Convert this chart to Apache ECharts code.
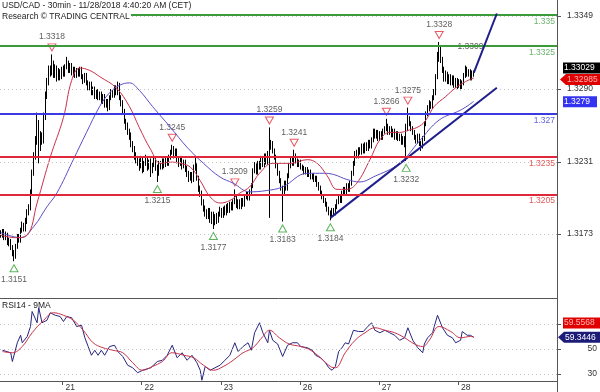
<!DOCTYPE html>
<html><head><meta charset="utf-8">
<script src="https://cdn.jsdelivr.net/npm/echarts@6/dist/echarts.min.js"></script>
<style>html,body{margin:0;padding:0;background:#fff}#c{width:600px;height:392px}</style>
</head><body><div id="c"></div>
<script>
// ---- 30-min USD/CAD candles (index 0 = 20 Nov ~05:00 CET) ----
const opens = [1.3174,1.3172,1.3175,1.3170,1.3173,1.3166,1.3168,1.3162,1.3158,1.3155,1.3163,1.3171,
1.3168,1.3176,1.3180,1.3177,1.3183,1.3191,1.3194,1.3206,1.3222,1.3236,1.3248,1.3262,
1.3244,1.3252,1.3248,1.3268,1.3285,1.3296,1.3306,1.3303,1.3310,1.3302,1.3307,1.3299,
1.3304,1.3300,1.3306,1.3302,1.3308,1.3311,1.3305,1.3309,1.3303,1.3306,1.3301,1.3305,
1.3302,1.3306,1.3300,1.3297,1.3301,1.3295,1.3291,1.3294,1.3287,1.3290,1.3284,1.3288,
1.3283,1.3286,1.3280,1.3284,1.3277,1.3280,1.3275,1.3283,1.3288,1.3285,1.3291,1.3287,
1.3293,1.3283,1.3278,1.3272,1.3264,1.3260,1.3256,1.3252,1.3245,1.3242,1.3236,1.3233,
1.3231,1.3228,1.3233,1.3226,1.3230,1.3234,1.3227,1.3231,1.3225,1.3229,1.3233,1.3227,
1.3224,1.3230,1.3228,1.3232,1.3229,1.3233,1.3230,1.3235,1.3239,1.3242,1.3237,1.3240,
1.3233,1.3230,1.3234,1.3228,1.3231,1.3226,1.3222,1.3218,1.3221,1.3217,1.3226,1.3228,
1.3218,1.3210,1.3206,1.3199,1.3194,1.3190,1.3188,1.3192,1.3185,1.3189,1.3183,1.3187,
1.3184,1.3189,1.3192,1.3188,1.3193,1.3190,1.3195,1.3192,1.3197,1.3194,1.3199,1.3202,
1.3196,1.3199,1.3195,1.3200,1.3197,1.3203,1.3205,1.3202,1.3207,1.3212,1.3224,1.3228,
1.3223,1.3230,1.3227,1.3234,1.3229,1.3236,1.3231,1.3238,1.3243,1.3246,1.3240,1.3235,
1.3228,1.3222,1.3216,1.3210,1.3207,1.3214,1.3210,1.3220,1.3228,1.3233,1.3230,1.3236,
1.3232,1.3229,1.3231,1.3227,1.3226,1.3223,1.3225,1.3221,1.3223,1.3219,1.3220,1.3217,
1.3218,1.3213,1.3210,1.3206,1.3203,1.3200,1.3197,1.3193,1.3190,1.3188,1.3192,1.3190,
1.3195,1.3199,1.3203,1.3200,1.3206,1.3209,1.3207,1.3212,1.3209,1.3214,1.3222,1.3230,
1.3238,1.3236,1.3241,1.3239,1.3244,1.3240,1.3245,1.3242,1.3247,1.3244,1.3249,1.3256,
1.3252,1.3255,1.3250,1.3254,1.3251,1.3256,1.3258,1.3260,1.3255,1.3258,1.3253,1.3256,
1.3251,1.3254,1.3250,1.3252,1.3247,1.3250,1.3246,1.3258,1.3266,1.3262,1.3258,1.3255,
1.3251,1.3248,1.3252,1.3246,1.3244,1.3250,1.3262,1.3270,1.3274,1.3278,1.3276,1.3283,
1.3287,1.3300,1.3316,1.3322,1.3314,1.3306,1.3299,1.3302,1.3297,1.3300,1.3296,1.3299,
1.3294,1.3297,1.3293,1.3296,1.3292,1.3295,1.3301,1.3306,1.3302,1.3304,1.3299,1.3303];
const closes = [1.3172,1.3175,1.3170,1.3173,1.3166,1.3168,1.3162,1.3158,1.3155,1.3163,1.3171,1.3168,
1.3176,1.3180,1.3177,1.3183,1.3191,1.3194,1.3206,1.3222,1.3236,1.3248,1.3262,1.3244,
1.3252,1.3248,1.3268,1.3285,1.3296,1.3306,1.3303,1.3310,1.3302,1.3307,1.3299,1.3304,
1.3300,1.3306,1.3302,1.3308,1.3311,1.3305,1.3309,1.3303,1.3306,1.3301,1.3305,1.3302,
1.3306,1.3300,1.3297,1.3301,1.3295,1.3291,1.3294,1.3287,1.3290,1.3284,1.3288,1.3283,
1.3286,1.3280,1.3284,1.3277,1.3280,1.3275,1.3283,1.3288,1.3285,1.3291,1.3287,1.3293,
1.3283,1.3278,1.3272,1.3264,1.3260,1.3256,1.3252,1.3245,1.3242,1.3236,1.3233,1.3231,
1.3228,1.3233,1.3226,1.3230,1.3234,1.3227,1.3231,1.3225,1.3229,1.3233,1.3227,1.3224,
1.3230,1.3228,1.3232,1.3229,1.3233,1.3230,1.3235,1.3239,1.3242,1.3237,1.3240,1.3233,
1.3230,1.3234,1.3228,1.3231,1.3226,1.3222,1.3218,1.3221,1.3217,1.3226,1.3228,1.3218,
1.3210,1.3206,1.3199,1.3194,1.3190,1.3188,1.3192,1.3185,1.3189,1.3183,1.3187,1.3184,
1.3189,1.3192,1.3188,1.3193,1.3190,1.3195,1.3192,1.3197,1.3194,1.3199,1.3202,1.3196,
1.3199,1.3195,1.3200,1.3197,1.3203,1.3205,1.3202,1.3207,1.3212,1.3224,1.3228,1.3223,
1.3230,1.3227,1.3234,1.3229,1.3236,1.3231,1.3238,1.3243,1.3246,1.3240,1.3235,1.3228,
1.3222,1.3216,1.3210,1.3207,1.3214,1.3210,1.3220,1.3228,1.3233,1.3230,1.3236,1.3232,
1.3229,1.3231,1.3227,1.3226,1.3223,1.3225,1.3221,1.3223,1.3219,1.3220,1.3217,1.3218,
1.3213,1.3210,1.3206,1.3203,1.3200,1.3197,1.3193,1.3190,1.3188,1.3192,1.3190,1.3195,
1.3199,1.3203,1.3200,1.3206,1.3209,1.3207,1.3212,1.3209,1.3214,1.3222,1.3230,1.3238,
1.3236,1.3241,1.3239,1.3244,1.3240,1.3245,1.3242,1.3247,1.3244,1.3249,1.3256,1.3252,
1.3255,1.3250,1.3254,1.3251,1.3256,1.3258,1.3260,1.3255,1.3258,1.3253,1.3256,1.3251,
1.3254,1.3250,1.3252,1.3247,1.3250,1.3246,1.3258,1.3266,1.3262,1.3258,1.3255,1.3251,
1.3248,1.3252,1.3246,1.3244,1.3250,1.3262,1.3270,1.3274,1.3278,1.3276,1.3283,1.3287,
1.3300,1.3316,1.3322,1.3314,1.3306,1.3299,1.3302,1.3297,1.3300,1.3296,1.3299,1.3294,
1.3297,1.3293,1.3296,1.3292,1.3295,1.3301,1.3306,1.3302,1.3304,1.3299,1.3303,1.33029];
const highs = [1.3176,1.3177,1.3177,1.3175,1.3174,1.3170,1.3169,1.3164,1.3160,1.3165,1.3173,1.3173,
1.3178,1.3183,1.3182,1.3186,1.3193,1.3197,1.3209,1.3225,1.3239,1.3252,1.3271,1.3265,
1.3256,1.3255,1.3271,1.3288,1.3299,1.3309,1.3309,1.3318,1.3313,1.3310,1.3309,1.3307,
1.3306,1.3308,1.3309,1.3310,1.3316,1.3313,1.3311,1.3311,1.3308,1.3308,1.3307,1.3307,
1.3308,1.3308,1.3302,1.3303,1.3303,1.3297,1.3296,1.3296,1.3292,1.3292,1.3290,1.3290,
1.3288,1.3288,1.3286,1.3286,1.3282,1.3282,1.3285,1.3290,1.3290,1.3293,1.3293,1.3296,
1.3295,1.3285,1.3281,1.3274,1.3266,1.3263,1.3258,1.3255,1.3248,1.3244,1.3239,1.3236,
1.3234,1.3236,1.3235,1.3232,1.3237,1.3236,1.3233,1.3234,1.3231,1.3236,1.3235,1.3229,
1.3232,1.3232,1.3234,1.3234,1.3235,1.3235,1.3237,1.3241,1.3245,1.3244,1.3242,1.3242,
1.3235,1.3236,1.3236,1.3233,1.3233,1.3228,1.3224,1.3223,1.3223,1.3229,1.3236,1.3230,
1.3220,1.3212,1.3208,1.3201,1.3196,1.3193,1.3194,1.3194,1.3191,1.3191,1.3189,1.3190,
1.3191,1.3195,1.3194,1.3195,1.3196,1.3197,1.3198,1.3199,1.3199,1.3201,1.3209,1.3204,
1.3201,1.3201,1.3202,1.3202,1.3205,1.3207,1.3207,1.3209,1.3214,1.3226,1.3231,1.3230,
1.3232,1.3232,1.3236,1.3236,1.3238,1.3238,1.3240,1.3259,1.3249,1.3248,1.3242,1.3237,
1.3230,1.3224,1.3218,1.3212,1.3216,1.3216,1.3222,1.3230,1.3235,1.3235,1.3241,1.3238,
1.3234,1.3233,1.3233,1.3229,1.3228,1.3227,1.3227,1.3225,1.3225,1.3222,1.3222,1.3220,
1.3220,1.3215,1.3212,1.3208,1.3205,1.3202,1.3199,1.3195,1.3192,1.3194,1.3194,1.3197,
1.3201,1.3205,1.3205,1.3208,1.3211,1.3211,1.3214,1.3214,1.3216,1.3224,1.3232,1.3240,
1.3241,1.3243,1.3243,1.3246,1.3246,1.3247,1.3247,1.3249,1.3249,1.3251,1.3258,1.3258,
1.3257,1.3257,1.3256,1.3256,1.3258,1.3260,1.3266,1.3262,1.3260,1.3260,1.3258,1.3258,
1.3256,1.3256,1.3254,1.3254,1.3252,1.3252,1.3262,1.3275,1.3268,1.3264,1.3260,1.3257,
1.3253,1.3254,1.3254,1.3248,1.3252,1.3264,1.3272,1.3277,1.3281,1.3280,1.3285,1.3290,
1.3302,1.3320,1.3328,1.3324,1.3316,1.3308,1.3305,1.3304,1.3302,1.3302,1.3301,1.3301,
1.3299,1.3299,1.3298,1.3298,1.3297,1.3303,1.3309,1.3308,1.3306,1.3306,1.3305,1.3305];
const lows = [1.3170,1.3170,1.3168,1.3168,1.3164,1.3163,1.3160,1.3155,1.3151,1.3153,1.3161,1.3166,
1.3166,1.3174,1.3175,1.3175,1.3181,1.3188,1.3192,1.3204,1.3220,1.3233,1.3245,1.3230,
1.3240,1.3245,1.3246,1.3265,1.3282,1.3293,1.3300,1.3301,1.3299,1.3299,1.3296,1.3297,
1.3297,1.3298,1.3300,1.3300,1.3306,1.3303,1.3303,1.3301,1.3300,1.3299,1.3299,1.3300,
1.3300,1.3298,1.3294,1.3295,1.3293,1.3289,1.3289,1.3285,1.3285,1.3282,1.3282,1.3281,
1.3281,1.3278,1.3278,1.3275,1.3275,1.3272,1.3273,1.3281,1.3283,1.3283,1.3285,1.3285,
1.3281,1.3276,1.3269,1.3262,1.3257,1.3253,1.3249,1.3243,1.3239,1.3233,1.3230,1.3228,
1.3224,1.3226,1.3222,1.3223,1.3228,1.3224,1.3225,1.3219,1.3222,1.3227,1.3224,1.3215,
1.3220,1.3225,1.3225,1.3226,1.3227,1.3228,1.3228,1.3233,1.3237,1.3234,1.3235,1.3230,
1.3227,1.3228,1.3225,1.3226,1.3223,1.3219,1.3215,1.3216,1.3214,1.3215,1.3224,1.3216,
1.3207,1.3203,1.3196,1.3191,1.3187,1.3185,1.3185,1.3182,1.3181,1.3177,1.3180,1.3181,
1.3182,1.3187,1.3186,1.3186,1.3188,1.3188,1.3190,1.3190,1.3192,1.3192,1.3197,1.3194,
1.3193,1.3193,1.3193,1.3195,1.3195,1.3201,1.3200,1.3200,1.3205,1.3210,1.3222,1.3221,
1.3221,1.3225,1.3225,1.3227,1.3227,1.3229,1.3229,1.3186,1.3241,1.3238,1.3233,1.3226,
1.3220,1.3214,1.3208,1.3183,1.3205,1.3208,1.3208,1.3218,1.3226,1.3228,1.3228,1.3230,
1.3227,1.3227,1.3225,1.3224,1.3221,1.3221,1.3219,1.3219,1.3217,1.3217,1.3215,1.3215,
1.3211,1.3208,1.3204,1.3201,1.3198,1.3195,1.3191,1.3188,1.3184,1.3186,1.3188,1.3188,
1.3193,1.3197,1.3198,1.3198,1.3204,1.3205,1.3205,1.3207,1.3207,1.3212,1.3220,1.3228,
1.3234,1.3234,1.3237,1.3237,1.3238,1.3238,1.3240,1.3240,1.3242,1.3242,1.3247,1.3250,
1.3250,1.3248,1.3248,1.3249,1.3249,1.3254,1.3256,1.3253,1.3253,1.3251,1.3251,1.3249,
1.3249,1.3248,1.3248,1.3245,1.3245,1.3243,1.3232,1.3256,1.3260,1.3256,1.3253,1.3249,
1.3246,1.3246,1.3244,1.3240,1.3242,1.3248,1.3260,1.3268,1.3272,1.3274,1.3274,1.3281,
1.3285,1.3298,1.3312,1.3311,1.3303,1.3296,1.3296,1.3294,1.3294,1.3293,1.3293,1.3291,
1.3291,1.3290,1.3291,1.3289,1.3290,1.3293,1.3299,1.3300,1.3300,1.3297,1.3297,1.3300];

// ---- axis / category info ----
const slotCount = 338;                       // 30-min slots incl. empty space on the right
const dayLabels = ['21','22','23','26','27','28'];
const dayStarts = [38,86,134,182,230,278];
const priceTicks = [1.3173,1.3231,1.3290,1.3349];
const rsiTicks = [30,50,70];
const rsiTickLabels = [30,50];

// ---- horizontal levels ----
const levelValues = [1.335,1.3325,1.327,1.3235,1.3205];
const levelLabels = ['1.335','1.3325','1.327','1.3235','1.3205'];
const levelColors = ['#3b9b3b','#3b9b3b','#3a3ae0','#e0283c','#e0283c'];
const levelTextColors = ['#6cb36c','#6cb36c','#6262e0','#e25a5a','#e25a5a'];

// ---- swing markers ----
const highMarkIdx = [31,104,142,163,178,234,247,266];
const highMarkVal = [1.3318,1.3245,1.3209,1.3259,1.3241,1.3266,1.3275,1.3328];
const lowMarkIdx = [8,95,129,171,200,246];
const lowMarkVal = [1.3151,1.3215,1.3177,1.3183,1.3184,1.3232];
const noteIdx = [285];
const noteVal = [1.3309];

// ---- moving averages ----
const fastMaIdx = [0,9,16,22,30,38,43,48,54,60,70,78,84,91,97,103,109,115,121,127,133,139,145,151,157,165,176,186,192,198,204,210,216,224,230,236,242,248,254,258,263,270,276,282,287];
const fastMaVal = [1.3172,1.3170,1.3172,1.3198,1.3235,1.3267,1.3297,1.3307,1.3305,1.3300,1.3291,1.3276,1.3259,1.3241,1.3230,1.3231,1.3230,1.3227,1.3216,1.3203,1.3198,1.3200,1.3206,1.3211,1.3222,1.3230,1.3230,1.3233,1.3230,1.3220,1.3209,1.3209,1.3214,1.3233,1.3249,1.3255,1.3255,1.3257,1.3260,1.3265,1.3276,1.3284,1.3291,1.3296,1.3299];
const slowMaIdx = [0,12,20,28,34,44,52,60,66,72,78,84,92,103,113,123,133,141,151,161,171,186,196,202,210,218,226,242,254,266,279,287];
const slowMaVal = [1.3174,1.3170,1.3179,1.3195,1.3206,1.3233,1.3255,1.3276,1.3287,1.3293,1.3295,1.3289,1.3276,1.3259,1.3243,1.3230,1.3219,1.3214,1.3207,1.3208,1.3211,1.3222,1.3222,1.3221,1.3217,1.3215,1.3219,1.3230,1.3248,1.3265,1.3273,1.3280];

// ---- trend line & projection ----
const trendIdx = [200,301];
const trendVal = [1.3186,1.3291];
const arrowIdx = [287,301];
const arrowVal = [1.3303,1.3351];

// ---- RSI(14) and its 9MA ----
const rsiIdx = [1,6,7,10,12,13,16,18,19,22,23,25,28,30,33,36,38,40,43,46,49,51,53,55,57,59,61,63,66,69,71,74,77,80,83,86,91,95,98,101,104,107,110,113,116,119,121,122,124,127,130,133,136,139,142,144,147,150,152,154,157,159,162,163,165,168,171,174,177,180,182,186,189,191,194,197,199,201,203,205,207,209,211,214,217,220,222,225,227,230,233,236,239,242,245,247,250,251,253,256,257,259,262,263,265,266,268,271,274,276,279,280,283,285,287];
const rsiVal = [49,47,40,55,61,55,60,68,80,71,83,71,73,79,77,76,72,76,75,68,69,59,52,45,49,45,49,45,52,53,48,44,37,35,31,33,35,40,41,45,53,43,47,41,45,39,33,25,36,33,35,37,41,45,55,48,52,55,49,63,71,63,55,65,57,54,44,53,55,55,52,51,49,45,43,39,35,33,36,48,51,55,54,65,64,64,67,71,65,63,65,63,61,57,59,67,57,57,51,47,54,59,63,68,77,76,67,61,59,55,57,64,61,61,59.3446];
const rsiMaIdx = [1,7,13,19,26,32,38,44,50,56,62,68,74,80,86,92,98,104,111,117,123,129,135,141,147,153,159,163,169,175,182,188,194,200,203,209,215,221,227,233,239,245,251,256,260,266,273,279,285,287];
const rsiMaVal = [48,47,52,63,73,79,77,73,65,55,51,49,47,39,33,36,40,47,45,43,37,33,36,41,47,51,60,65,59,54,52,49,43,36,35,47,57,63,67,65,63,59,54,52,57,68,64,59,60,59.5568];

// ---- last-value tags ----
const lastClose = 1.33029, bidPrice = 1.32985, slowMaLast = 1.3279;
const rsiMaLast = 59.5568, rsiLast = 59.3446;

const FONT = "'Liberation Sans', Arial, sans-serif";
const FS = 8.5;
const categories = Array.from({length: slotCount}, (_, i) => String(i));
const candleData = opens.map((o, i) => [o, closes[i], lows[i], highs[i]]);
const pairs = (xs, ys) => xs.map((x, i) => [x, ys[i]]);
const isDayStart = (idx) => dayStarts.indexOf(idx) >= 0;

const chart = echarts.init(document.getElementById('c'), null, {renderer: 'canvas'});

const levelLines = levelValues.map((v, i) => ({
  yAxis: v,
  lineStyle: {color: levelColors[i], width: 2, type: 'solid'},
  label: {show: true, formatter: levelLabels[i], position: 'insideEndBottom', distance: 2,
          color: levelTextColors[i], fontSize: FS, fontFamily: FONT}
}));
const gridDots = priceTicks.map(v => ({
  yAxis: v, lineStyle: {color: '#c4c4c4', width: 1, type: [1, 3]}, label: {show: false}
}));

chart.setOption({
  animation: false,
  backgroundColor: '#ffffff',
  grid: [
    {left: 0, top: 0, width: 557, height: 297},
    {left: 0, top: 299, width: 557, height: 82}
  ],
  xAxis: [
    {type: 'category', gridIndex: 0, data: categories, boundaryGap: true, show: false},
    {type: 'category', gridIndex: 1, data: categories, boundaryGap: true,
     axisLine: {show: true, lineStyle: {color: '#555', width: 1}},
     axisTick: {show: true, interval: (idx) => isDayStart(idx), length: 4, inside: false, lineStyle: {color: '#555'}},
     axisLabel: {show: true, interval: (idx) => isDayStart(idx),
       formatter: (v, idx) => dayLabels[dayStarts.indexOf(idx)] || '',
       align: 'left', padding: [0, 0, 0, 2], margin: 2, fontSize: FS, color: '#333', fontFamily: FONT},
     splitLine: {show: false}}
  ],
  yAxis: [
    {type: 'value', gridIndex: 0, position: 'right', min: 1.31221, max: 1.33619,
     axisLine: {show: false},
     axisTick: {show: true, customValues: priceTicks, length: 4, lineStyle: {color: '#555'}},
     axisLabel: {show: true, customValues: priceTicks, formatter: v => v.toFixed(4), margin: 10,
                 fontSize: FS, color: '#333', fontFamily: FONT},
     splitLine: {show: false}},
    {type: 'value', gridIndex: 1, position: 'right', min: 24.4, max: 90,
     axisLine: {show: false},
     axisTick: {show: true, customValues: rsiTicks, length: 4, lineStyle: {color: '#555'}},
     axisLabel: {show: true, customValues: rsiTickLabels, align: 'right', margin: 40,
                 fontSize: FS, color: '#333', fontFamily: FONT},
     splitLine: {show: false}}
  ],
  series: [
    {type: 'candlestick', xAxisIndex: 0, yAxisIndex: 0, data: candleData, barWidth: 1.3,
     itemStyle: {color: '#000', color0: '#000', borderColor: '#000', borderColor0: '#000', borderWidth: 1}},
    {type: 'line', xAxisIndex: 0, yAxisIndex: 0, data: pairs(slowMaIdx, slowMaVal), smooth: 0.4,
     showSymbol: false, lineStyle: {color: '#5a4fc8', width: 1},
     markLine: {silent: true, symbol: ['none', 'none'], animation: false, precision: 6,
                data: gridDots.concat(levelLines)}},
    {type: 'line', xAxisIndex: 0, yAxisIndex: 0, data: pairs(fastMaIdx, fastMaVal), smooth: 0.4,
     showSymbol: false, lineStyle: {color: '#c8324a', width: 1}},
    {type: 'line', xAxisIndex: 0, yAxisIndex: 0, data: pairs(trendIdx, trendVal),
     showSymbol: false, lineStyle: {color: '#1e1e8c', width: 2},
     markLine: {silent: true, symbol: ['none', 'arrow'], symbolSize: [0, 11], precision: 6,
                lineStyle: {color: '#1e1e8c', width: 2, type: 'solid'}, label: {show: false},
                data: [[{coord: [arrowIdx[0], arrowVal[0]]}, {coord: [arrowIdx[1], arrowVal[1]]}]]}},
    {type: 'scatter', xAxisIndex: 0, yAxisIndex: 0, data: pairs(highMarkIdx, highMarkVal),
     symbol: 'triangle', symbolRotate: 180, symbolSize: [8, 7], symbolOffset: [0, -7],
     itemStyle: {color: '#ffffff', borderColor: '#e0303c', borderWidth: 1},
     label: {show: true, position: 'top', distance: 2, formatter: p => p.value[1].toFixed(4),
             fontSize: FS, color: '#333', fontFamily: FONT}},
    {type: 'scatter', xAxisIndex: 0, yAxisIndex: 0, data: pairs(lowMarkIdx, lowMarkVal),
     symbol: 'triangle', symbolSize: [8, 7], symbolOffset: [0, 7],
     itemStyle: {color: '#ffffff', borderColor: '#33a033', borderWidth: 1},
     label: {show: true, position: 'bottom', distance: 3, formatter: p => p.value[1].toFixed(4),
             fontSize: FS, color: '#333', fontFamily: FONT}},
    {type: 'scatter', xAxisIndex: 0, yAxisIndex: 0, data: pairs(noteIdx, noteVal),
     symbolSize: 1, itemStyle: {color: 'rgba(0,0,0,0)'},
     label: {show: true, position: 'top', distance: 14, formatter: p => p.value[1].toFixed(4),
             fontSize: FS, color: '#333', fontFamily: FONT}},
    {type: 'line', xAxisIndex: 1, yAxisIndex: 1, data: pairs(rsiIdx, rsiVal),
     showSymbol: false, lineStyle: {color: '#26267e', width: 1},
     markLine: {silent: true, symbol: ['none', 'none'], label: {show: false}, precision: 6,
                lineStyle: {color: '#c4c4c4', width: 1, type: [1, 3]},
                data: rsiTicks.map(v => ({yAxis: v}))}},
    {type: 'line', xAxisIndex: 1, yAxisIndex: 1, data: pairs(rsiMaIdx, rsiMaVal), smooth: 0.4,
     showSymbol: false, lineStyle: {color: '#c8324a', width: 1}}
  ]
});

// ---- overlays positioned through the axes ----
const yP = v => chart.convertToPixel({yAxisIndex: 0}, v);
const yR = v => chart.convertToPixel({yAxisIndex: 1}, v);
function tag(yc, text, bg, fg, left, right, arrowTip) {
  const els = [
    {type: 'rect', shape: {x: left, y: yc - 5.5, width: right - left, height: 11}, style: {fill: bg}, z: 100}
  ];
  if (arrowTip != null) {
    els.push({type: 'polygon', shape: {points: [[arrowTip, yc], [left, yc - 5.5], [left, yc + 5.5]]}, style: {fill: bg}, z: 100});
  }
  els.push({type: 'text', style: {text: text, x: left + 1, y: yc, verticalAlign: 'middle', fill: fg, font: FS + 'px ' + FONT}, z: 101});
  return els;
}
const g = [];
g.push({type: 'rect', shape: {x: 0, y: 0, width: 131, height: 23}, style: {fill: '#fff'}, z: 90});
g.push({type: 'text', style: {text: 'USD/CAD - 30min - 11/28/2018 4:40:20 AM (CET)', x: 2, y: 1, fill: '#222', font: FS + 'px ' + FONT}, z: 91});
g.push({type: 'text', style: {text: 'Research \u00A9 TRADING CENTRAL', x: 2, y: 12, fill: '#222', font: FS + 'px ' + FONT}, z: 91});
g.push({type: 'text', style: {text: 'RSI14 - 9MA', x: 2, y: 301, fill: '#222', font: FS + 'px ' + FONT}, z: 91});
g.push({type: 'line', shape: {x1: 557.5, y1: 0, x2: 557.5, y2: 392}, style: {stroke: '#555', lineWidth: 1}, z: 95});
g.push({type: 'line', shape: {x1: 0, y1: 298.5, x2: 557, y2: 298.5}, style: {stroke: '#555', lineWidth: 1}, z: 95});
tag(yP(lastClose) - 5, lastClose.toFixed(5), '#000', '#fff', 563, 600).forEach(e => g.push(e));
tag(yP(bidPrice) + 1, bidPrice.toFixed(5), '#e00000', '#ffb4b4', 566, 600, 560).forEach(e => g.push(e));
tag(yP(slowMaLast) - 1, slowMaLast.toFixed(4), '#3434f0', '#fff', 563, 597).forEach(e => g.push(e));
tag(yR(rsiMaLast) - 14, rsiMaLast.toFixed(4), '#e00000', '#ffb4b4', 563, 600).forEach(e => g.push(e));
tag(yR(rsiLast), rsiLast.toFixed(4), '#1c1c78', '#fff', 564, 600, 558).forEach(e => g.push(e));
chart.setOption({graphic: g});
</script>
</body></html>
